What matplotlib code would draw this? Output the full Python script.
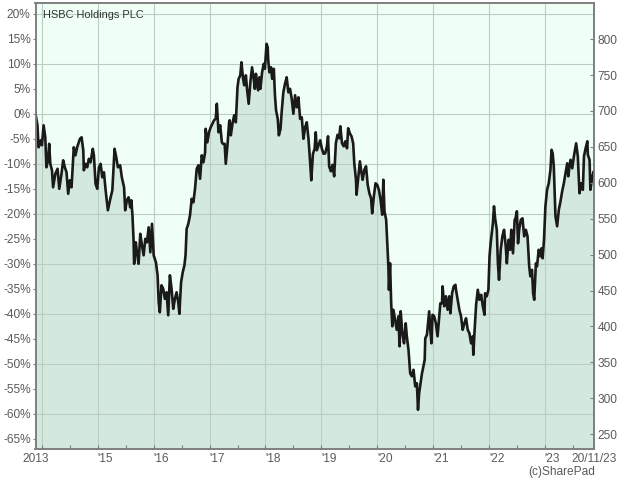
import matplotlib
matplotlib.use('Agg')
from matplotlib import pyplot as plt
import numpy as np

plt.rcParams['font.family'] = ['Liberation Sans', 'DejaVu Sans']

title = 'HSBC Holdings PLC'
base_price = 696.0   # share price (p) at the start of the period
start_year = 2013.885   # 20/11/13
end_year = 2023.885     # 20/11/23

year_ticks = [2014, 2015, 2016, 2017, 2018, 2019, 2020, 2021, 2022, 2023]
year_labels = ['', "'15", "'16", "'17", "'18", "'19", "'20", "'21", "'22", "'23"]
pct_ticks = list(range(-65, 21, 5))
pct_grid = list(range(-60, 21, 10))
price_ticks = list(range(250, 801, 50))

# % change since start
years = [
    2013.885, 2013.92, 2013.94, 2013.98, 2014.00, 2014.03, 2014.06, 2014.08, 2014.11, 2014.13,
    2014.15, 2014.18, 2014.20, 2014.24, 2014.28, 2014.31, 2014.35, 2014.38, 2014.41, 2014.44,
    2014.47, 2014.50, 2014.53, 2014.57, 2014.60, 2014.63, 2014.68, 2014.71, 2014.74, 2014.75,
    2014.78, 2014.81, 2014.84, 2014.87, 2014.91, 2014.93, 2014.96, 2014.99, 2015.02, 2015.05,
    2015.08, 2015.11, 2015.14, 2015.18, 2015.23, 2015.26, 2015.30, 2015.33, 2015.36, 2015.40,
    2015.43, 2015.47, 2015.49, 2015.52, 2015.55, 2015.58, 2015.60, 2015.62, 2015.64, 2015.65,
    2015.68, 2015.70, 2015.73, 2015.76, 2015.79, 2015.82, 2015.85, 2015.88, 2015.91, 2015.94,
    2015.97, 2016.00, 2016.04, 2016.07, 2016.09, 2016.11, 2016.14, 2016.17, 2016.20, 2016.23,
    2016.26, 2016.29, 2016.32, 2016.35, 2016.38, 2016.41, 2016.44, 2016.46, 2016.49, 2016.52,
    2016.55, 2016.57, 2016.59, 2016.62, 2016.65, 2016.68, 2016.71, 2016.74, 2016.77, 2016.80,
    2016.83, 2016.86, 2016.89, 2016.92, 2016.93, 2016.96, 2016.99, 2017.02, 2017.05, 2017.08,
    2017.11, 2017.13, 2017.16, 2017.19, 2017.22, 2017.24, 2017.27, 2017.29, 2017.32, 2017.35,
    2017.36, 2017.38, 2017.41, 2017.44, 2017.47, 2017.50, 2017.52, 2017.55, 2017.57, 2017.60,
    2017.62, 2017.65, 2017.67, 2017.70, 2017.73, 2017.76, 2017.79, 2017.81, 2017.83, 2017.85,
    2017.87, 2017.89, 2017.91, 2017.94, 2017.97, 2017.99, 2018.02, 2018.04, 2018.05, 2018.07,
    2018.10, 2018.12, 2018.15, 2018.17, 2018.19, 2018.22, 2018.24, 2018.27, 2018.29, 2018.32,
    2018.35, 2018.38, 2018.41, 2018.44, 2018.47, 2018.50, 2018.53, 2018.56, 2018.59, 2018.62,
    2018.65, 2018.68, 2018.71, 2018.74, 2018.77, 2018.80, 2018.82, 2018.85, 2018.88, 2018.90,
    2018.92, 2018.95, 2018.98, 2019.01, 2019.04, 2019.07, 2019.10, 2019.12, 2019.14, 2019.17,
    2019.20, 2019.23, 2019.26, 2019.29, 2019.32, 2019.34, 2019.37, 2019.40, 2019.43, 2019.46,
    2019.48, 2019.51, 2019.54, 2019.57, 2019.59, 2019.62, 2019.63, 2019.66, 2019.69, 2019.72,
    2019.74, 2019.77, 2019.80, 2019.83, 2019.86, 2019.89, 2019.91, 2019.94, 2019.97, 2020.00,
    2020.03, 2020.06, 2020.09, 2020.11, 2020.13, 2020.16, 2020.18, 2020.20, 2020.21, 2020.23,
    2020.25, 2020.27, 2020.29, 2020.32, 2020.35, 2020.38, 2020.40, 2020.42, 2020.45, 2020.48,
    2020.51, 2020.53, 2020.56, 2020.59, 2020.62, 2020.65, 2020.68, 2020.71, 2020.73, 2020.75,
    2020.80, 2020.85, 2020.86, 2020.89, 2020.91, 2020.93, 2020.95, 2020.97, 2020.99, 2021.02,
    2021.05, 2021.08, 2021.11, 2021.13, 2021.16, 2021.17, 2021.20, 2021.23, 2021.26, 2021.29,
    2021.31, 2021.34, 2021.37, 2021.40, 2021.41, 2021.44, 2021.47, 2021.50, 2021.53, 2021.56,
    2021.59, 2021.62, 2021.65, 2021.68, 2021.71, 2021.72, 2021.74, 2021.77, 2021.80, 2021.83,
    2021.86, 2021.89, 2021.92, 2021.93, 2021.96, 2021.99, 2022.01, 2022.03, 2022.07, 2022.09,
    2022.11, 2022.14, 2022.16, 2022.18, 2022.21, 2022.24, 2022.27, 2022.30, 2022.32, 2022.35,
    2022.38, 2022.40, 2022.43, 2022.46, 2022.47, 2022.50, 2022.52, 2022.54, 2022.57, 2022.60,
    2022.63, 2022.66, 2022.69, 2022.72, 2022.74, 2022.77, 2022.79, 2022.81, 2022.84, 2022.86,
    2022.89, 2022.92, 2022.94, 2022.96, 2022.985, 2023.01, 2023.04, 2023.07, 2023.10, 2023.12,
    2023.14, 2023.16, 2023.19, 2023.22, 2023.25, 2023.28, 2023.31, 2023.34, 2023.37, 2023.40,
    2023.42, 2023.44, 2023.46, 2023.49, 2023.52, 2023.55, 2023.56, 2023.59, 2023.62, 2023.65,
    2023.68, 2023.70, 2023.73, 2023.76, 2023.77, 2023.80, 2023.815, 2023.85, 2023.875, 2023.885,
]
change = [
    0.0, -2.3, -6.7, -5.3, -6.3, -2.3, -4.7, -10.7, -9.3, -6.0,
    -10.0, -11.3, -14.7, -12.0, -11.0, -15.0, -12.0, -9.3, -10.7, -11.7,
    -16.0, -13.3, -14.7, -6.7, -8.3, -6.7, -5.0, -4.7, -7.3, -11.3,
    -10.0, -10.7, -9.0, -9.7, -7.0, -8.3, -14.0, -15.0, -10.7, -10.0,
    -12.7, -11.7, -15.3, -19.3, -16.7, -15.3, -7.0, -8.7, -10.7, -10.3,
    -12.7, -14.7, -19.3, -17.3, -16.7, -18.7, -17.3, -20.3, -25.3, -30.0,
    -25.7, -27.7, -30.0, -24.0, -26.3, -28.3, -25.0, -25.7, -22.7, -27.7,
    -22.0, -28.3, -29.7, -32.3, -37.7, -39.7, -34.3, -35.0, -37.0, -35.7,
    -40.3, -32.3, -35.0, -39.0, -37.0, -35.7, -37.7, -40.0, -33.7, -31.7,
    -30.3, -28.3, -23.0, -22.0, -20.3, -17.0, -17.7, -15.0, -11.0, -10.3,
    -13.0, -8.3, -9.7, -7.7, -3.0, -5.7, -3.7, -2.7, -2.0, -1.3,
    -1.0, 2.0, -3.7, -2.3, -5.7, -6.0, -6.0, -10.0, -6.3, -1.7,
    -1.3, -4.3, -2.0, -0.3, -1.7, 5.3, 7.0, 7.7, 10.3, 7.0,
    5.7, 7.7, 5.0, 2.0, 6.3, 9.3, 7.0, 5.0, 8.0, 6.0,
    4.7, 7.3, 5.0, 8.3, 10.0, 9.0, 14.0, 13.3, 10.7, 8.3,
    9.3, 7.0, 9.0, 3.7, 0.7, -1.0, -4.3, -3.0, 0.3, 4.3,
    6.0, 7.3, 4.3, 5.0, 3.0, 0.0, 3.7, 1.3, 3.3, -1.0,
    -0.7, -5.0, -2.7, -1.7, -5.0, -9.7, -13.3, -8.0, -7.0, -3.7,
    -7.3, -6.3, -5.3, -7.0, -8.0, -7.9, -6.5, -4.5, -10.5, -11.5,
    -10.2, -12.5, -5.9, -4.2, -4.9, -2.5, -5.9, -6.5, -5.5, -6.9,
    -2.9, -3.9, -4.5, -5.9, -9.9, -13.2, -16.2, -12.9, -9.5, -11.9,
    -13.2, -11.2, -10.5, -14.2, -15.9, -16.9, -19.9, -16.5, -13.9, -14.2,
    -15.2, -17.2, -20.2, -13.2, -19.5, -21.2, -25.9, -30.5, -35.2, -29.9,
    -37.9, -42.5, -39.2, -41.2, -43.2, -40.5, -46.5, -39.5, -43.9, -45.9,
    -41.9, -44.5, -47.2, -51.9, -52.5, -51.2, -54.5, -53.9, -59.2, -55.9,
    -52.0, -49.2, -44.9, -44.2, -41.9, -39.5, -43.2, -45.9, -40.2, -40.5,
    -41.9, -44.5, -40.5, -37.9, -37.9, -34.5, -38.5, -36.5, -39.2, -36.5,
    -39.9, -35.9, -34.5, -34.2, -35.2, -37.2, -39.2, -40.5, -43.2, -41.9,
    -40.9, -43.2, -43.9, -45.9, -44.5, -48.2, -43.9, -38.2, -35.2, -37.2,
    -36.2, -38.5, -40.2, -35.9, -36.5, -35.2, -28.5, -25.9, -21.9, -18.5,
    -20.9, -23.2, -29.9, -33.2, -27.2, -24.5, -23.2, -26.5, -29.9, -25.2,
    -27.2, -23.2, -27.9, -21.2, -21.2, -19.5, -25.9, -23.2, -21.2, -20.9,
    -24.5, -23.2, -24.5, -30.5, -32.5, -31.2, -35.9, -37.2, -29.9, -30.5,
    -27.2, -28.5, -26.9, -28.9, -25.2, -18.5, -15.2, -13.9, -11.2, -7.2,
    -7.9, -10.5, -20.5, -22.5, -19.2, -17.5, -15.5, -13.9, -11.9, -9.9,
    -12.5, -10.5, -9.2, -10.9, -8.5, -6.5, -5.9, -8.5, -15.9, -13.9,
    -15.2, -8.5, -6.9, -5.5, -8.2, -9.2, -15.2, -12.5, -11.5, -11.8,
]

grid_col = '#bccdc4'
axis_col = '#7f7f7f'
text_col = '#5a5a5a'

fig = plt.figure(figsize=(6.4, 4.8), dpi=100)
ax = fig.add_axes([35.5 / 640, 1 - 449.3 / 480, 558.8 / 640, 446 / 480])
ax.set_facecolor('#effff5')
ax.set_xlim(start_year, end_year)
ax.set_ylim(-67.1, 22.1)

for v in pct_grid:
    ax.axhline(v, color=grid_col, lw=0.8, zorder=1.5)
for y in year_ticks:
    ax.axvline(y, color=grid_col, lw=0.8, zorder=1.5)

ax.fill_between(years, change, -67.1, color='#d3e9dd', lw=0, zorder=1)
ax.plot(years, change, color='#1a1a1a', lw=1.9, zorder=3)

# left axis, % change
ax.set_yticks(pct_ticks)
ax.set_yticklabels(['%d%%' % v for v in pct_ticks])
ax.tick_params(axis='y', direction='out', length=2, width=0.8, pad=1.5,
               colors=axis_col, labelcolor=text_col, labelsize=8.6)

# bottom axis
ax.set_xticks([start_year] + year_ticks + [end_year])
ax.set_xticklabels(['2013'] + year_labels + ['20/11/23'])
ax.set_xticks([y + 0.5 for y in year_ticks], minor=True)
ax.tick_params(axis='x', which='both', direction='in', length=3, width=0.8, pad=3,
               colors=axis_col, labelcolor=text_col, labelsize=8.6)
labels = ax.get_xticklabels()
for lbl in labels[1:-1]:
    lbl.set_horizontalalignment('left')

for s in ax.spines.values():
    s.set_color(axis_col)
    s.set_linewidth(1.2)

# right axis, price in pence
ax2 = ax.twinx()
lo, hi = ax.get_ylim()
ax2.set_ylim(base_price * (1 + lo / 100), base_price * (1 + hi / 100))
ax2.set_yticks(price_ticks)
ax2.set_yticklabels([str(v) for v in price_ticks])
ax2.tick_params(axis='y', direction='in', length=3, width=0.8, pad=2.5,
                colors=axis_col, labelcolor=text_col, labelsize=8.6)
for s in ax2.spines.values():
    s.set_color(axis_col)
    s.set_linewidth(1.2)

ax.text(42.7 / 640, 1 - 15 / 480, title, transform=fig.transFigure,
        ha='left', va='center', fontsize=7.9, color='#333333')
fig.text(595 / 640, 1 - 471.5 / 480, '(c)SharePad', ha='right', va='center',
         fontsize=8.6, color=text_col)

fig.savefig('out.png', dpi=100, facecolor='white')
